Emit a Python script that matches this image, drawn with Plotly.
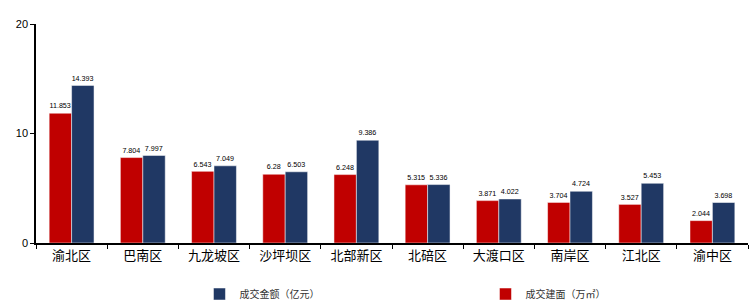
import plotly.graph_objects as go

categories = ["渝北区", "巴南区", "九龙坡区", "沙坪坝区", "北部新区", "北碚区", "大渡口区", "南岸区", "江北区", "渝中区"]
area = [11.853, 7.804, 6.543, 6.28, 6.248, 5.315, 3.871, 3.704, 3.527, 2.044]
amount = [14.393, 7.997, 7.049, 6.503, 9.386, 5.336, 4.022, 4.724, 5.453, 3.698]
area_name = "成交建面（万㎡）"
amount_name = "成交金额（亿元）"
yticks = [0, 10, 20]

fig = go.Figure()
fig.add_trace(go.Bar(
    x=categories, y=area, name=area_name,
    marker=dict(color="#C00000", line=dict(color="white", width=0.5)),
    text=[f"{v:g}" for v in area], textposition="outside",
    textfont=dict(size=8, color="#000000"), cliponaxis=False, legendrank=2,
))
fig.add_trace(go.Bar(
    x=categories, y=amount, name=amount_name,
    marker=dict(color="#203864", line=dict(color="white", width=0.5)),
    text=[f"{v:g}" for v in amount], textposition="outside",
    textfont=dict(size=8, color="#000000"), cliponaxis=False, legendrank=1,
))

fig.update_layout(
    width=750, height=304,
    margin=dict(l=36, r=2, t=24, b=61, autoexpand=False),
    paper_bgcolor="white", plot_bgcolor="white",
    font=dict(family="Liberation Sans, Noto Sans CJK SC", color="#000000"),
    barmode="group", bargap=0.37, bargroupgap=0.0,
    showlegend=True,
    legend=dict(orientation="h", x=0.2296, xanchor="left", y=-0.233, yanchor="middle",
                entrywidth=241, entrywidthmode="pixels",
                font=dict(size=10, color="#333333"), itemwidth=30,
                traceorder="normal"),
    uniformtext=dict(minsize=7, mode="show"),
)
fig.update_xaxes(
    showline=True, linecolor="black", linewidth=1.5,
    ticks="outside", tickson="boundaries", ticklen=4, tickcolor="black",
    tickfont=dict(size=13, color="#000000"), showgrid=False,
)
fig.update_yaxes(
    range=[0, 20], tickvals=yticks, showline=True, linecolor="black", linewidth=1.5,
    ticks="outside", ticklen=4, tickcolor="black", showgrid=False, zeroline=False,
    tickfont=dict(size=11, color="#000000"),
)

fig.write_html("out.html")
